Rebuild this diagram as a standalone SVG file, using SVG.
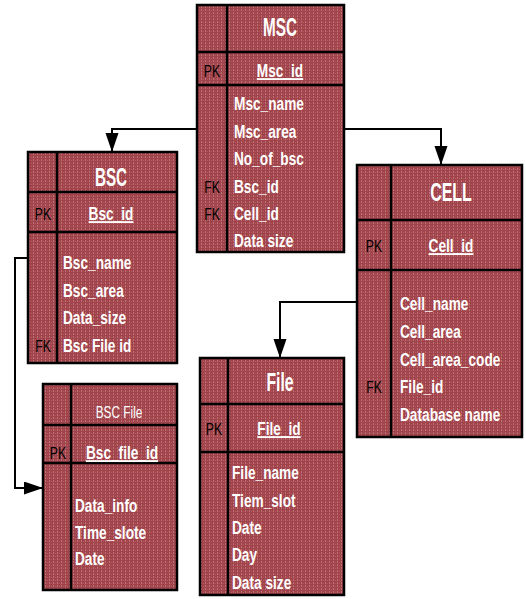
<svg xmlns="http://www.w3.org/2000/svg" width="526" height="599" viewBox="0 0 526 599">
<defs>
<pattern id="tex" width="4" height="3" patternUnits="userSpaceOnUse">
<rect width="4" height="3" fill="#A0434A"/>
<rect x="1" y="0" width="1" height="2" fill="#D49598" opacity="0.55"/>
<rect x="3" y="1" width="1" height="1" fill="#C97C80" opacity="0.4"/>
</pattern>
<marker id="arr" markerUnits="userSpaceOnUse" markerWidth="21" markerHeight="14" refX="19" refY="6.5" orient="auto">
<path d="M0,0 L19,6.5 L0,13 Z" fill="#000"/>
</marker>
</defs>
<style>
.box{fill:url(#tex);stroke:#000;stroke-width:2.5}
.div{stroke:#000;stroke-width:2.5;fill:none}
.t{font-family:"Liberation Sans",Arial,sans-serif;font-weight:bold;fill:#fff;font-size:19px}
.h{font-size:25px;text-anchor:middle}
.pk{text-decoration:underline;text-anchor:middle}
.k{font-family:"Liberation Sans",Arial,sans-serif;fill:#000;font-size:17px;text-anchor:middle}
.c{stroke:#000;stroke-width:2;fill:none}
</style>
<g id="connectors">
<polyline class="c" points="197,129 112,129 112,152" marker-end="url(#arr)"/>
<polyline class="c" points="344,129 441,129 441,165" marker-end="url(#arr)"/>
<polyline class="c" points="28,258 15,258 15,488 43,488" marker-end="url(#arr)"/>
<polyline class="c" points="357,302 280,302 280,358" marker-end="url(#arr)"/>
</g>
<g id="msc">
<rect class="box" x="197" y="5" width="147" height="247"/>
<path class="div" d="M227,5 V252 M197,52 H344 M197,85 H344"/>
<text class="t h" transform="matrix(0.61 0 0 1 280 36)">MSC</text>
<text class="k" transform="matrix(0.72 0 0 1 212 77)">PK</text>
<text class="t pk" transform="matrix(0.72 0 0 1 280 77)">Msc_id</text>
<text class="t" transform="matrix(0.72 0 0 1 234 110)">Msc_name</text>
<text class="t" transform="matrix(0.72 0 0 1 234 138)">Msc_area</text>
<text class="t" transform="matrix(0.72 0 0 1 234 165)">No_of_bsc</text>
<text class="t" transform="matrix(0.72 0 0 1 234 193)">Bsc_id</text>
<text class="t" transform="matrix(0.72 0 0 1 234 220)">Cell_id</text>
<text class="t" transform="matrix(0.72 0 0 1 234 247)">Data size</text>
<text class="k" transform="matrix(0.72 0 0 1 212 193)">FK</text>
<text class="k" transform="matrix(0.72 0 0 1 212 220)">FK</text>
</g>
<g id="bsc">
<rect class="box" x="28" y="152" width="149" height="211"/>
<path class="div" d="M57,152 V363 M28,192 H177 M28,232 H177"/>
<text class="t h" transform="matrix(0.61 0 0 1 111 186)">BSC</text>
<text class="k" transform="matrix(0.72 0 0 1 43 220)">PK</text>
<text class="t pk" transform="matrix(0.72 0 0 1 111 220)">Bsc_id</text>
<text class="t" transform="matrix(0.72 0 0 1 63 269)">Bsc_name</text>
<text class="t" transform="matrix(0.72 0 0 1 63 297)">Bsc_area</text>
<text class="t" transform="matrix(0.72 0 0 1 63 324)">Data_size</text>
<text class="t" transform="matrix(0.72 0 0 1 63 352)">Bsc File id</text>
<text class="k" transform="matrix(0.72 0 0 1 43 352)">FK</text>
</g>
<g id="cell">
<rect class="box" x="357" y="165" width="165" height="272"/>
<path class="div" d="M391,165 V437 M357,220 H522 M357,270 H522"/>
<text class="t h" transform="matrix(0.64 0 0 1 451 201)">CELL</text>
<text class="k" transform="matrix(0.72 0 0 1 374 252)">PK</text>
<text class="t pk" transform="matrix(0.72 0 0 1 451 252)">Cell_id</text>
<text class="t" transform="matrix(0.72 0 0 1 400 310)">Cell_name</text>
<text class="t" transform="matrix(0.72 0 0 1 400 338)">Cell_area</text>
<text class="t" transform="matrix(0.72 0 0 1 400 366)">Cell_area_code</text>
<text class="t" transform="matrix(0.72 0 0 1 400 393)">File_id</text>
<text class="t" transform="matrix(0.72 0 0 1 400 421)">Database name</text>
<text class="k" transform="matrix(0.72 0 0 1 374 393)">FK</text>
</g>
<g id="bscfile">
<rect class="box" x="43" y="384" width="134" height="206"/>
<path class="div" d="M71,384 V590 M43,425 H177 M43,463 H177"/>
<text class="t" transform="matrix(0.74 0 0 1 119 418)" style="font-size:16px;font-weight:normal;text-anchor:middle">BSC File</text>
<text class="k" transform="matrix(0.72 0 0 1 58 459)">PK</text>
<text class="t pk" transform="matrix(0.72 0 0 1 122 459)">Bsc_file_id</text>
<text class="t" transform="matrix(0.72 0 0 1 75 512)">Data_info</text>
<text class="t" transform="matrix(0.72 0 0 1 75 539)">Time_slote</text>
<text class="t" transform="matrix(0.72 0 0 1 75 565)">Date</text>
</g>
<g id="file">
<rect class="box" x="200" y="358" width="144" height="237"/>
<path class="div" d="M228,358 V595 M200,404 H344 M200,452 H344"/>
<text class="t h" transform="matrix(0.63 0 0 1 280 391)">File</text>
<text class="k" transform="matrix(0.72 0 0 1 214 435)">PK</text>
<text class="t pk" transform="matrix(0.72 0 0 1 279 435)">File_id</text>
<text class="t" transform="matrix(0.72 0 0 1 232 479)">File_name</text>
<text class="t" transform="matrix(0.72 0 0 1 232 507)">Tiem_slot</text>
<text class="t" transform="matrix(0.72 0 0 1 232 534)">Date</text>
<text class="t" transform="matrix(0.72 0 0 1 232 561)">Day</text>
<text class="t" transform="matrix(0.72 0 0 1 232 589)">Data size</text>
</g>
</svg>
